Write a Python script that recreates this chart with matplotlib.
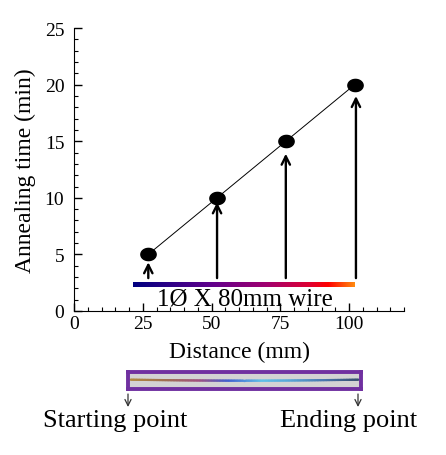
import numpy as np
import matplotlib
matplotlib.use("Agg")
import matplotlib.pyplot as plt
from matplotlib.collections import LineCollection
from matplotlib.colors import LinearSegmentedColormap
from matplotlib.patches import FancyArrowPatch
from matplotlib.path import Path
from matplotlib.ticker import MultipleLocator

plt.rcParams['font.family'] = ['Liberation Serif', 'DejaVu Serif']

# data
distance = [27, 52, 77, 102]          # mm
anneal_time = [5, 10, 15, 20]         # min
arrow_base = 2.9
arrow_tip = [4.3, 9.6, 13.9, 19.0]
arrow_x = [27, 52, 77, 102.5]
bar_start, bar_end, bar_y = 21.5, 102, 2.3

fig = plt.figure(figsize=(4.46, 4.56), dpi=100)
ax = fig.add_axes([0.166, 0.316, 0.740, 0.620])

# slightly flattened dot, like the original
t = np.linspace(0, 2 * np.pi, 40)
blob = Path(np.column_stack([1.25 * np.cos(t), np.sin(t)]), closed=True)

ax.plot(distance, anneal_time, color='black', lw=0.7, zorder=2)
ax.plot(distance, anneal_time, ls='none', marker=blob, color='black', ms=11, zorder=3)

for x, tip in zip(arrow_x, arrow_tip):
    ax.annotate('', xy=(x, tip), xytext=(x, arrow_base),
                arrowprops=dict(arrowstyle='->', lw=1.7, color='black',
                                mutation_scale=15, shrinkA=0, shrinkB=0))

# gradient bar representing the wire
heat = LinearSegmentedColormap.from_list(
    'heat', [(0, '#000080'), (0.35, '#60008c'), (0.6, '#a00070'),
             (0.8, '#e00030'), (0.88, '#ff0000'), (1, '#ff8a10')])
ax.imshow(np.linspace(0, 1, 256)[None, :], cmap=heat, aspect='auto',
          extent=[bar_start, bar_end, bar_y - 0.2, bar_y + 0.2], zorder=2)

ax.text(62, 0.1, '1Ø X 80mm wire', ha='center', va='bottom', fontsize=18, zorder=4)

ax.set_xlim(0, 120)
ax.set_ylim(0, 25)
ax.xaxis.set_major_locator(MultipleLocator(25))
ax.xaxis.set_minor_locator(MultipleLocator(5))
ax.yaxis.set_major_locator(MultipleLocator(5))
ax.yaxis.set_minor_locator(MultipleLocator(1))
ax.tick_params(which='both', direction='in', labelsize=14)
ax.tick_params(which='major', length=6, width=1)
ax.tick_params(which='minor', length=3, width=0.8)
ax.tick_params(axis='y', pad=7)
ax.tick_params(axis='x', pad=3)
ax.spines['top'].set_visible(False)
ax.spines['right'].set_visible(False)
ax.set_xlabel('Distance (mm)', fontsize=17, labelpad=6)
ax.set_ylabel('Annealing time (min)', fontsize=17, labelpad=6)

# photo-like strip of the annealed wire
wax = fig.add_axes([128 / 446, 1 - 390 / 456, 233 / 446, 17 / 456])
wax.set_facecolor('#d3d3d3')
for s in wax.spines.values():
    s.set_color('#7030a0')
    s.set_linewidth(2.8)
wax.set_xticks([])
wax.set_yticks([])
wax.set_xlim(0, 1)
wax.set_ylim(0, 1)
wire = LinearSegmentedColormap.from_list(
    'wire', [(0, '#b08a40'), (0.15, '#a07050'), (0.3, '#a05080'), (0.43, '#4060d0'),
             (0.58, '#60c0e8'), (0.7, '#5aa8d8'), (0.85, '#4a78b0'), (1, '#385070')])
wx = np.linspace(0.01, 0.99, 150)
wy = 0.55 - 0.06 * np.sin(np.pi * wx)
wsegs = [[(wx[i], wy[i]), (wx[i + 1], wy[i + 1])] for i in range(len(wx) - 1)]
wlc = LineCollection(wsegs, cmap=wire, linewidths=1.6, capstyle='round')
wlc.set_array(np.linspace(0, 1, len(wsegs)))
wax.add_collection(wlc)

# small pointers to the two ends of the wire
for px in (128, 358):
    fig.add_artist(FancyArrowPatch(
        (px / 446, 1 - 395 / 456), (px / 446, 1 - 408 / 456),
        transform=fig.transFigure, arrowstyle='->', mutation_scale=11,
        lw=0.9, color='#333333', shrinkA=0, shrinkB=0))
fig.text(115 / 446, 1 - 421 / 456, 'Starting point', ha='center', va='center', fontsize=19)
fig.text(349 / 446, 1 - 421 / 456, 'Ending point', ha='center', va='center', fontsize=19)

fig.savefig('out.png', dpi=100)
